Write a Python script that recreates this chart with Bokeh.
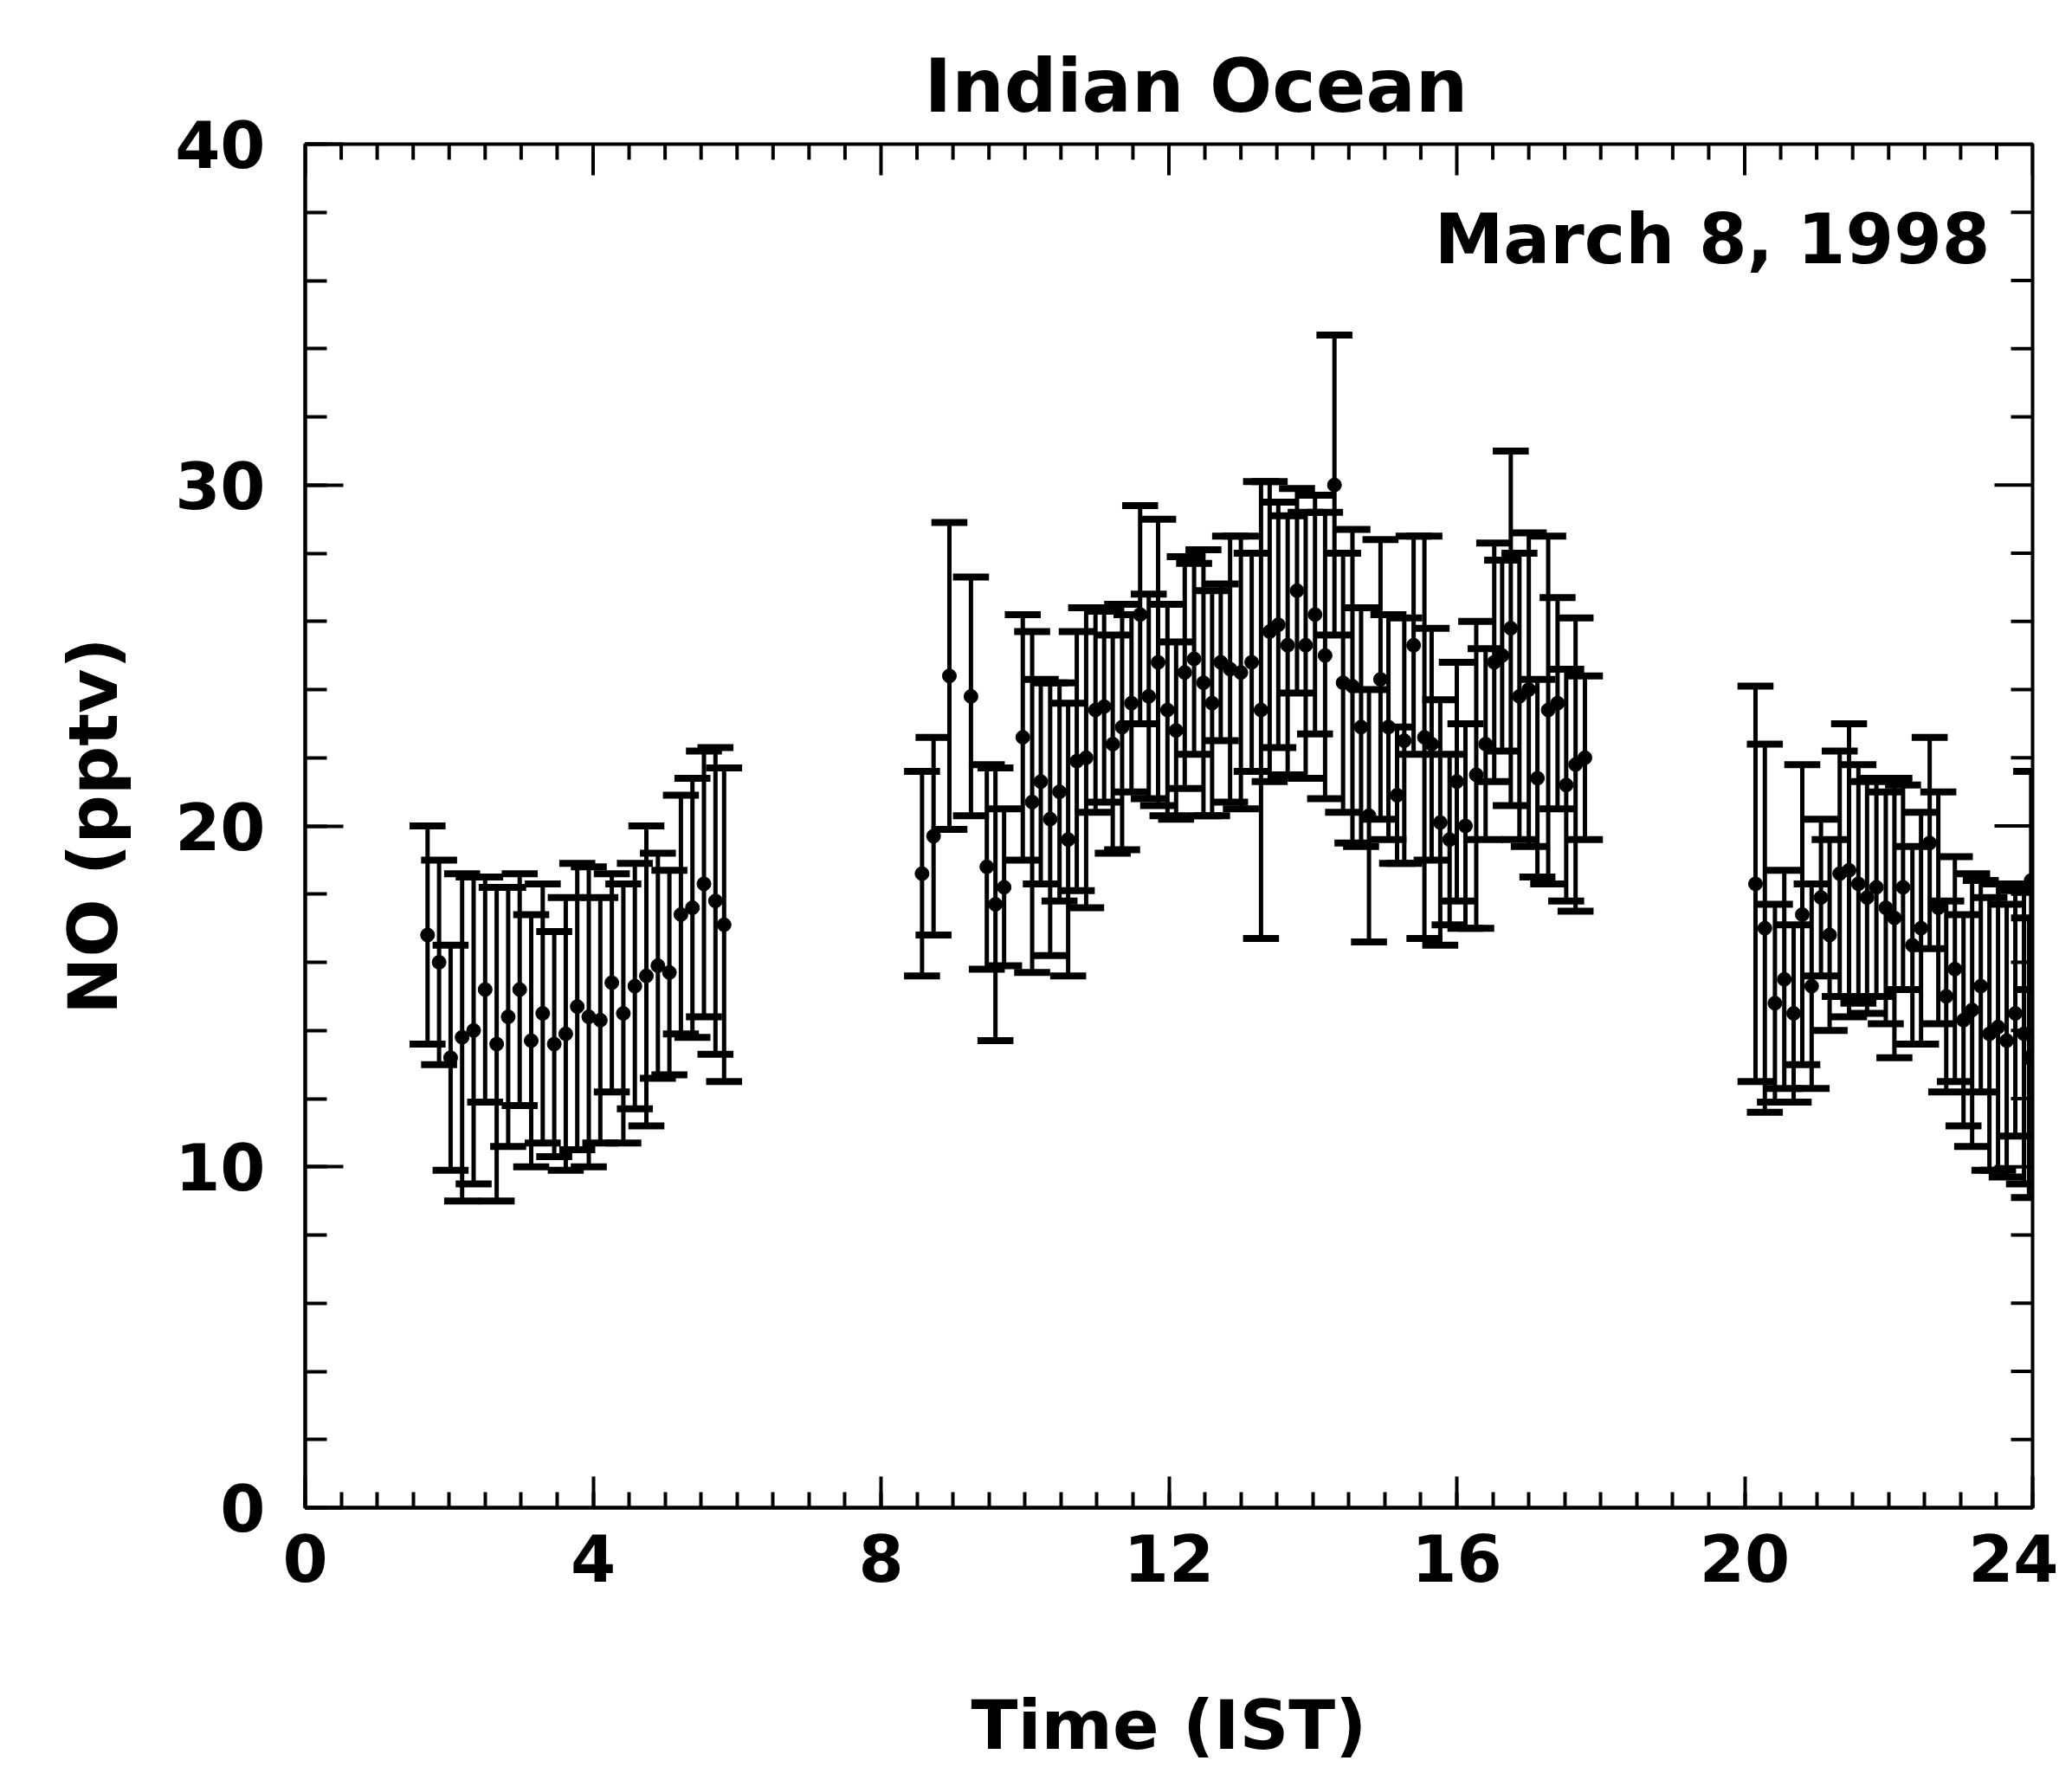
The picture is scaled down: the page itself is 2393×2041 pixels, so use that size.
from bokeh.plotting import figure
from bokeh.models import ColumnDataSource, Label, FixedTicker, Range1d
from bokeh.embed import file_html
from bokeh.resources import INLINE

# ---- data ----
# cluster 1: early morning
hours_a = [1.70, 1.86, 2.02, 2.18, 2.34, 2.50, 2.66, 2.82, 2.98, 3.14, 3.30, 3.46, 3.62,
           3.78, 3.94, 4.10, 4.26, 4.42, 4.58, 4.74, 4.90, 5.06, 5.22, 5.38, 5.54, 5.70, 5.82]
no_a = [16.8, 16.0, 13.2, 13.8, 14.0, 15.2, 13.6, 14.4, 15.2, 13.7, 14.5, 13.6, 13.9,
        14.7, 14.4, 14.3, 15.4, 14.5, 15.3, 15.6, 15.9, 15.7, 17.4, 17.6, 18.3, 17.8, 17.1]
err_a = [3.2, 3.0, 3.3, 4.8, 4.5, 3.3, 4.6, 3.8, 3.4, 3.7, 3.8, 3.3, 4.0,
         4.2, 4.4, 3.6, 3.2, 3.8, 3.6, 4.4, 3.3, 3.0, 3.5, 3.8, 3.9, 4.5, 4.6]

# cluster 2: daytime
hours_b = [8.57, 8.73, 8.95, 9.25, 9.47, 9.59, 9.71, 9.97, 10.10, 10.22, 10.35, 10.48, 10.60,
           10.72, 10.85, 10.98, 11.10, 11.22, 11.35, 11.48, 11.60, 11.72, 11.85, 11.98, 12.10,
           12.22, 12.35, 12.48, 12.60, 12.72, 12.85, 13.00, 13.15, 13.28, 13.40, 13.52, 13.65,
           13.78, 13.90, 14.03, 14.17, 14.30, 14.42, 14.55, 14.67, 14.78, 14.94, 15.05, 15.17,
           15.27, 15.40, 15.55, 15.65, 15.77, 15.90, 16.00, 16.12, 16.27, 16.40, 16.52, 16.63,
           16.75, 16.87, 17.00, 17.12, 17.27, 17.40, 17.52, 17.65, 17.78]
no_b = [18.6, 19.7, 24.4, 23.8, 18.8, 17.7, 18.2, 22.6, 20.7, 21.3, 20.2, 21.0, 19.6,
        21.9, 22.0, 23.4, 23.5, 22.4, 22.9, 23.6, 26.2, 23.8, 24.8, 23.4, 22.8,
        24.5, 24.9, 24.2, 23.6, 24.8, 24.6, 24.5, 24.8, 23.4, 25.7, 25.9, 25.3,
        26.9, 25.3, 26.2, 25.0, 30.0, 24.2, 24.1, 22.9, 20.3, 24.3, 22.9, 20.9,
        22.5, 25.3, 22.6, 22.4, 20.1, 19.6, 21.3, 20.0, 21.5, 22.4, 24.8, 25.0,
        25.8, 23.8, 24.0, 21.4, 23.4, 23.6, 21.2, 21.8, 22.0]
err_b = [3.0, 2.9, 4.5, 3.5, 3.0, 4.0, 2.3, 3.6, 5.0, 3.0, 4.0, 3.2, 4.0,
         3.8, 4.4, 3.0, 2.8, 3.2, 3.6, 2.6, 3.2, 3.0, 4.2, 3.1, 2.6,
         3.4, 2.8, 3.9, 3.3, 2.3, 3.9, 4.0, 3.2, 6.7, 4.4, 3.6, 3.8,
         3.0, 3.9, 3.5, 4.2, 4.4, 3.8, 4.6, 3.5, 3.7, 4.1, 3.3, 2.0,
         3.6, 3.2, 5.9, 3.4, 3.6, 2.5, 3.5, 3.0, 4.5, 2.8, 3.5, 2.8,
         5.2, 4.2, 4.6, 2.9, 5.1, 3.1, 3.4, 4.3, 2.4]

# cluster 3: night
hours_c = [20.15, 20.28, 20.42, 20.55, 20.68, 20.80, 20.93, 21.06, 21.18, 21.32, 21.45,
           21.58, 21.70, 21.83, 21.96, 22.08, 22.20, 22.33, 22.45, 22.57, 22.69, 22.80,
           22.92, 23.04, 23.16, 23.28, 23.40, 23.52, 23.64, 23.76, 23.88, 23.95, 23.98]
no_c = [18.3, 17.0, 14.8, 15.5, 14.5, 17.4, 15.3, 17.9, 16.8, 18.6, 18.7,
        18.3, 17.9, 18.2, 17.6, 17.3, 18.2, 16.5, 17.0, 19.5, 17.6, 15.0,
        15.8, 14.3, 14.6, 15.3, 13.9, 14.1, 13.7, 14.5, 13.9, 13.2, 18.4]
err_c = [5.8, 5.4, 2.9, 3.2, 2.6, 4.4, 3.0, 2.3, 2.8, 3.6, 4.3,
         3.5, 3.4, 3.2, 3.4, 4.1, 3.0, 2.9, 3.4, 3.1, 3.4, 2.8,
         3.3, 3.1, 4.0, 3.1, 4.0, 4.2, 4.0, 3.6, 4.4, 4.1, 3.2]

x_ticks = [0, 4, 8, 12, 16, 20, 24]
y_ticks = [0, 10, 20, 30, 40]

title_text = "Indian Ocean"
date_text = "March 8, 1998"
x_label = "Time (IST)"
y_label = "NO (pptv)"

# ---- layout constants ----
FRAME_W, FRAME_H = 1995, 1575
X0, X1, Y0, Y1 = 0, 24, 0, 40
X_MINOR_N, Y_MINOR_N = 8, 5
X_TICK_IN, X_MINOR_IN = 36, 18
Y_TICK_IN, Y_MINOR_IN = 44, 25
FONT = "DejaVu Sans"

# ---- build sources ----
hours = hours_a + hours_b + hours_c
no = no_a + no_b + no_c
err = err_a + err_b + err_c
cap_half = 0.25
src = ColumnDataSource(dict(
    t=hours, no=no,
    lo=[v - e for v, e in zip(no, err)],
    hi=[v + e for v, e in zip(no, err)],
    cl=[t - cap_half for t in hours],
    cr=[t + cap_half for t in hours],
))


def minor_positions(ticks, n):
    step = (ticks[1] - ticks[0]) / n
    count = int(round((ticks[-1] - ticks[0]) / step))
    return [ticks[0] + i * step for i in range(count + 1)]


x_minor = minor_positions(x_ticks, X_MINOR_N)
y_minor = minor_positions(y_ticks, Y_MINOR_N)

p = figure(frame_width=FRAME_W, frame_height=FRAME_H,
           min_border_left=352, min_border_right=30,
           min_border_top=166, min_border_bottom=284,
           x_range=Range1d(X0, X1), y_range=Range1d(Y0, Y1),
           output_backend="svg", toolbar_location=None,
           title=title_text)
p.grid.visible = False
p.background_fill_color = "white"
p.border_fill_color = "white"
p.outline_line_color = "black"
p.outline_line_width = 4

p.title.align = "left"
p.title.offset = 715
p.title.text_color = "black"
p.title.text_font = FONT
p.title.text_font_style = "bold"
p.title.text_font_size = "85px"
p.title.standoff = 36

# error bars
p.segment(x0="t", y0="lo", x1="t", y1="hi", source=src, line_color="black", line_width=5)
p.segment(x0="cl", y0="hi", x1="cr", y1="hi", source=src, line_color="black", line_width=8)
p.segment(x0="cl", y0="lo", x1="cr", y1="lo", source=src, line_color="black", line_width=8)
p.scatter(x="t", y="no", source=src, size=16, marker="circle",
          fill_color="black", line_color="black")

# mirrored inward ticks on top and right edges (px lengths converted to data units)
ppx = FRAME_W / (X1 - X0)
ppy = FRAME_H / (Y1 - Y0)
top_x = [v for v in x_minor]
top_len = [(X_TICK_IN if v in x_ticks else X_MINOR_IN) / ppy for v in top_x]
p.segment(x0=top_x, y0=[Y1] * len(top_x), x1=top_x, y1=[Y1 - L for L in top_len],
          line_color="black", line_width=4)
right_y = [v for v in y_minor]
right_len = [(Y_TICK_IN if v in y_ticks else Y_MINOR_IN) / ppx for v in right_y]
p.segment(x0=[X1] * len(right_y), y0=right_y, x1=[X1 - L for L in right_len], y1=right_y,
          line_color="black", line_width=4)


def style_axis(ax, ticks, minor, tin, mtin):
    ax.ticker = FixedTicker(ticks=ticks, minor_ticks=minor)
    ax.axis_line_color = "black"
    ax.axis_line_width = 4
    ax.major_tick_in = tin
    ax.major_tick_out = 0
    ax.minor_tick_in = mtin
    ax.minor_tick_out = 0
    ax.major_tick_line_width = 4
    ax.minor_tick_line_width = 4
    ax.major_tick_line_color = "black"
    ax.minor_tick_line_color = "black"
    ax.major_label_text_font = FONT
    ax.major_label_text_font_style = "bold"
    ax.major_label_text_font_size = "75px"
    ax.major_label_text_color = "black"
    ax.axis_label_text_font = FONT
    ax.axis_label_text_font_style = "bold"
    ax.axis_label_text_font_size = "79px"
    ax.axis_label_text_color = "black"


xb = p.xaxis[0]
yl = p.yaxis[0]
style_axis(xb, x_ticks, x_minor, X_TICK_IN, X_MINOR_IN)
style_axis(yl, y_ticks, y_minor, Y_TICK_IN, Y_MINOR_IN)
xb.axis_label = x_label
yl.axis_label = y_label
xb.major_label_standoff = 30
xb.axis_label_standoff = 117
yl.major_label_standoff = 46
yl.axis_label_standoff = 45

p.add_layout(Label(x=X1, y=37.2, x_offset=-49, text=date_text, text_align="right",
                   text_baseline="alphabetic", text_font=FONT, text_font_style="bold",
                   text_font_size="80px", text_color="black"))

open("out.html", "w").write(file_html(p, INLINE))
